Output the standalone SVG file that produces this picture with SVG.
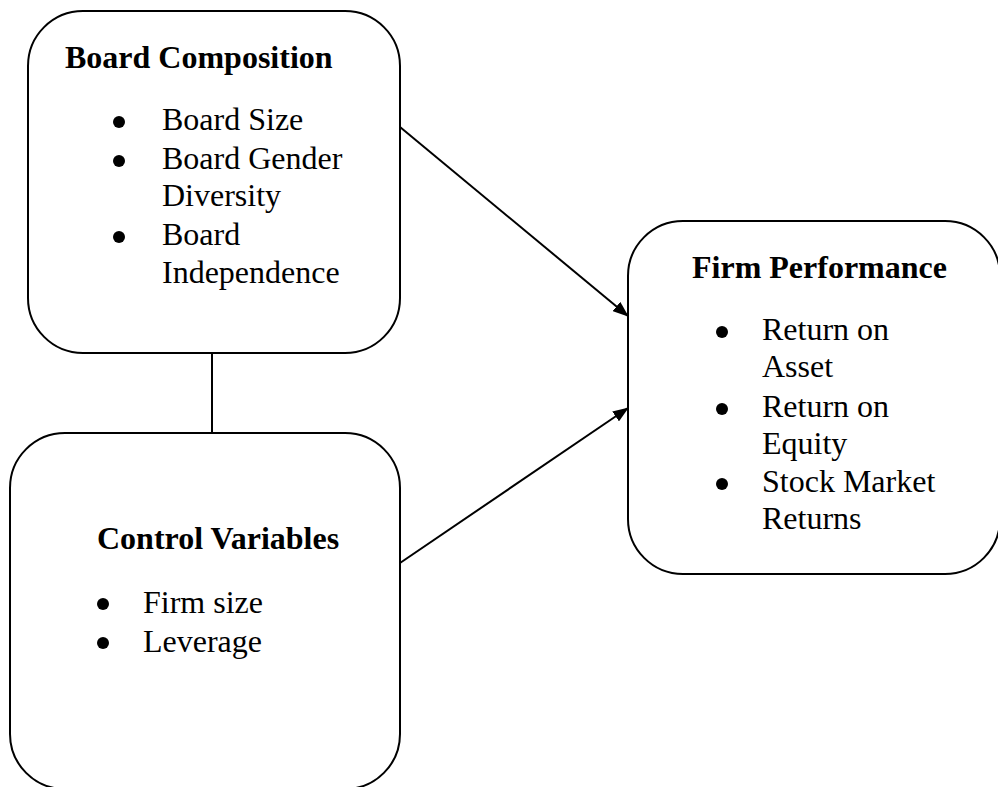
<svg xmlns="http://www.w3.org/2000/svg" width="998" height="787" viewBox="0 0 998 787">
<style>
.box{fill:#fff;stroke:#000;stroke-width:2}
.t{font-family:"Liberation Serif","Times New Roman",serif;font-size:32px;fill:#000}
.h{font-weight:bold}
.b{fill:#000}
.c{stroke:#000;stroke-width:2;fill:none}
</style>
<defs>
<marker id="ah" markerWidth="16" markerHeight="12" refX="15" refY="6" orient="auto" markerUnits="userSpaceOnUse">
<path d="M0,0 L16,6 L0,12 Z" fill="#000"/>
</marker>
</defs>
<rect width="998" height="787" fill="#fff"/>
<g id="connectors">
<line class="c" x1="212" y1="353" x2="212" y2="433"/>
<line class="c" x1="400" y1="127" x2="628" y2="316" marker-end="url(#ah)"/>
<line class="c" x1="400" y1="563" x2="628" y2="408" marker-end="url(#ah)"/>
</g>
<g id="board-composition">
<rect class="box" x="28" y="11" width="372" height="342" rx="55" ry="55"/>
<text class="t h" x="65" y="68">Board Composition</text>
<circle class="b" cx="119" cy="122" r="6"/>
<text class="t" x="162" y="130">Board Size</text>
<circle class="b" cx="119" cy="161" r="6"/>
<text class="t" x="162" y="169">Board Gender</text>
<text class="t" x="162" y="206">Diversity</text>
<circle class="b" cx="119" cy="237" r="6"/>
<text class="t" x="162" y="245">Board</text>
<text class="t" x="162" y="283">Independence</text>
</g>
<g id="control-variables">
<rect class="box" x="10" y="433" width="390" height="356" rx="55" ry="55"/>
<text class="t h" x="97" y="549">Control Variables</text>
<circle class="b" cx="103" cy="604" r="6"/>
<text class="t" x="143" y="613">Firm size</text>
<circle class="b" cx="103" cy="643" r="6"/>
<text class="t" x="143" y="652">Leverage</text>
</g>
<g id="firm-performance">
<rect class="box" x="628" y="221" width="372" height="353" rx="55" ry="55"/>
<text class="t h" x="692" y="278">Firm Performance</text>
<circle class="b" cx="722" cy="332" r="6"/>
<text class="t" x="762" y="340">Return on</text>
<text class="t" x="762" y="377">Asset</text>
<circle class="b" cx="722" cy="409" r="6"/>
<text class="t" x="762" y="417">Return on</text>
<text class="t" x="762" y="454">Equity</text>
<circle class="b" cx="722" cy="484" r="6"/>
<text class="t" x="762" y="492">Stock Market</text>
<text class="t" x="762" y="529">Returns</text>
</g>
</svg>
